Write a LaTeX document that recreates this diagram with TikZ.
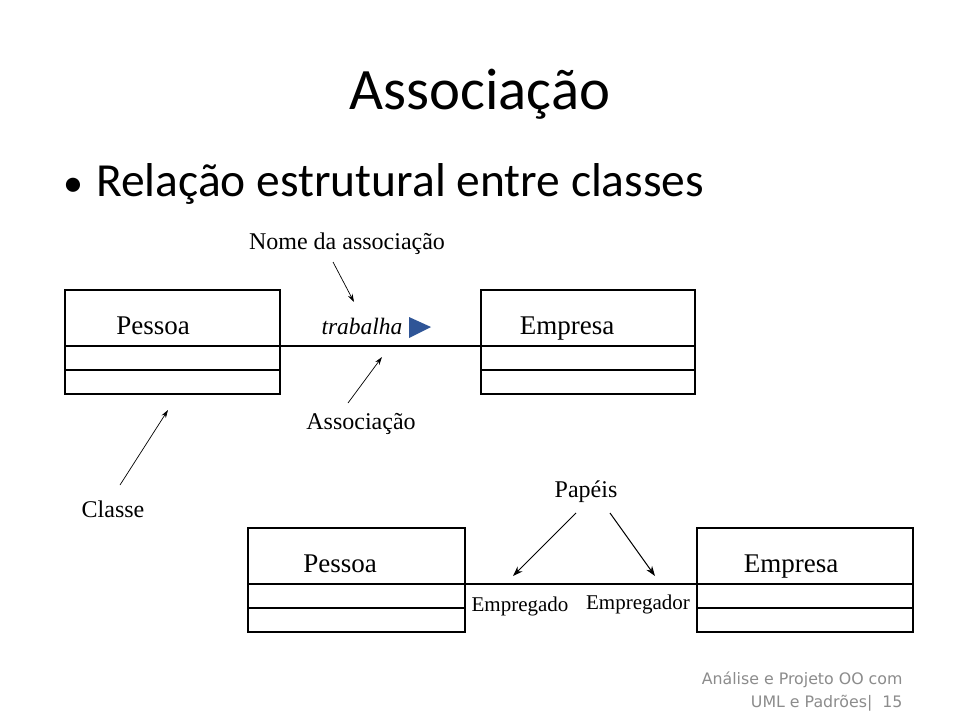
\documentclass[tikz,border=0pt]{standalone}
\usepackage{fontspec}
\setmainfont{Liberation Serif}
\newfontfamily\slidefont{Carlito}
\newfontfamily\footfont{DejaVu Sans}
\usetikzlibrary{arrows.meta}
\definecolor{tri}{HTML}{2F5597}
\definecolor{footgray}{HTML}{8C8C8C}
\begin{document}
\begin{tikzpicture}[x=1pt,y=-1pt,
  boxline/.style={draw=black,line width=1.1pt},
  cls/.style={font=\fontsize{27}{29}\selectfont},
  lbl/.style={font=\fontsize{24}{26}\selectfont},
  small/.style={font=\fontsize{21}{23}\selectfont},
  pointer/.style={draw=black,line width=1pt,-{Stealth[length=10pt,width=7pt]}},
  thin/.style={draw=black,line width=0.7pt,-{Stealth[length=8pt,width=5pt]}}]
\useasboundingbox (0,0) rectangle (960,720);
\fill[white] (0,0) rectangle (960,720);
% title
\node (title) at (480,94) {\slidefont\fontsize{58.7}{60}\selectfont Associação};
\node[anchor=base] (dot) at (73,196) {\slidefont\fontsize{40}{40}\selectfont •};
\node[anchor=base west,inner sep=0pt] (bullet) at (96,196) {\slidefont\fontsize{47.5}{50}\selectfont Relação estrutural entre classes};
% top diagram
\draw[boxline] (65,290) rectangle (280,394);
\draw[boxline] (65,346) -- (280,346) (65,370) -- (280,370);
\draw[boxline] (481,290) rectangle (695,394);
\draw[boxline] (481,346) -- (695,346) (481,370) -- (695,370);
\coordinate (p1r) at (280,346);
\coordinate (e1l) at (481,346);
\draw[boxline] (p1r) -- (e1l);
\node[cls,anchor=base] (pessoa1) at (153,334) {Pessoa};
\node[cls,anchor=base] (empresa1) at (567,334) {Empresa};
\node[anchor=base,font=\fontsize{23.5}{25}\selectfont\itshape] (trab) at (362,334) {trabalha};
\fill[tri] (409,317) -- (431,327) -- (409,338) -- cycle;
\node[lbl] (nome) at (347,244) {Nome da associação};
\coordinate (nomeA) at (333,262);
\coordinate (nomeB) at (354,302);
\draw[thin] (nomeA) -- (nomeB);
\node[lbl] (assoc) at (361,424) {Associação};
\coordinate (assA) at (348,403);
\coordinate (assB) at (382,357);
\draw[thin] (assA) -- (assB);
\node[lbl] (classe) at (113,509) {Classe};
\coordinate (clA) at (120,485);
\coordinate (clB) at (168,410);
\draw[thin] (clA) -- (clB);
% bottom diagram
\draw[boxline] (248,528) rectangle (465,632);
\draw[boxline] (248,584) -- (465,584) (248,608) -- (465,608);
\draw[boxline] (697,528) rectangle (913,632);
\draw[boxline] (697,584) -- (913,584) (697,608) -- (913,608);
\coordinate (p2r) at (465,584);
\coordinate (e2l) at (697,584);
\draw[boxline] (p2r) -- (e2l);
\node[cls,anchor=base] (pessoa2) at (340,572) {Pessoa};
\node[cls,anchor=base] (empresa2) at (791,572) {Empresa};
\node[small,anchor=base] (empdo) at (520,611) {Empregado};
\node[small,anchor=base] (empdor) at (638,609) {Empregador};
\node[lbl] (papeis) at (586,492) {Papéis};
\coordinate (pa1) at (576,513);
\coordinate (pb1) at (513,576);
\coordinate (pa2) at (610,513);
\coordinate (pb2) at (655,576);
\draw[pointer] (pa1) -- (pb1);
\draw[pointer] (pa2) -- (pb2);
% footer
\node[anchor=east,align=right,text=footgray,font=\footfont\fontsize{15.8}{23}\selectfont] (foot) at (906,692) {Análise e Projeto OO com\\UML e Padrões|\ \ 15};
\end{tikzpicture}
\end{document}
